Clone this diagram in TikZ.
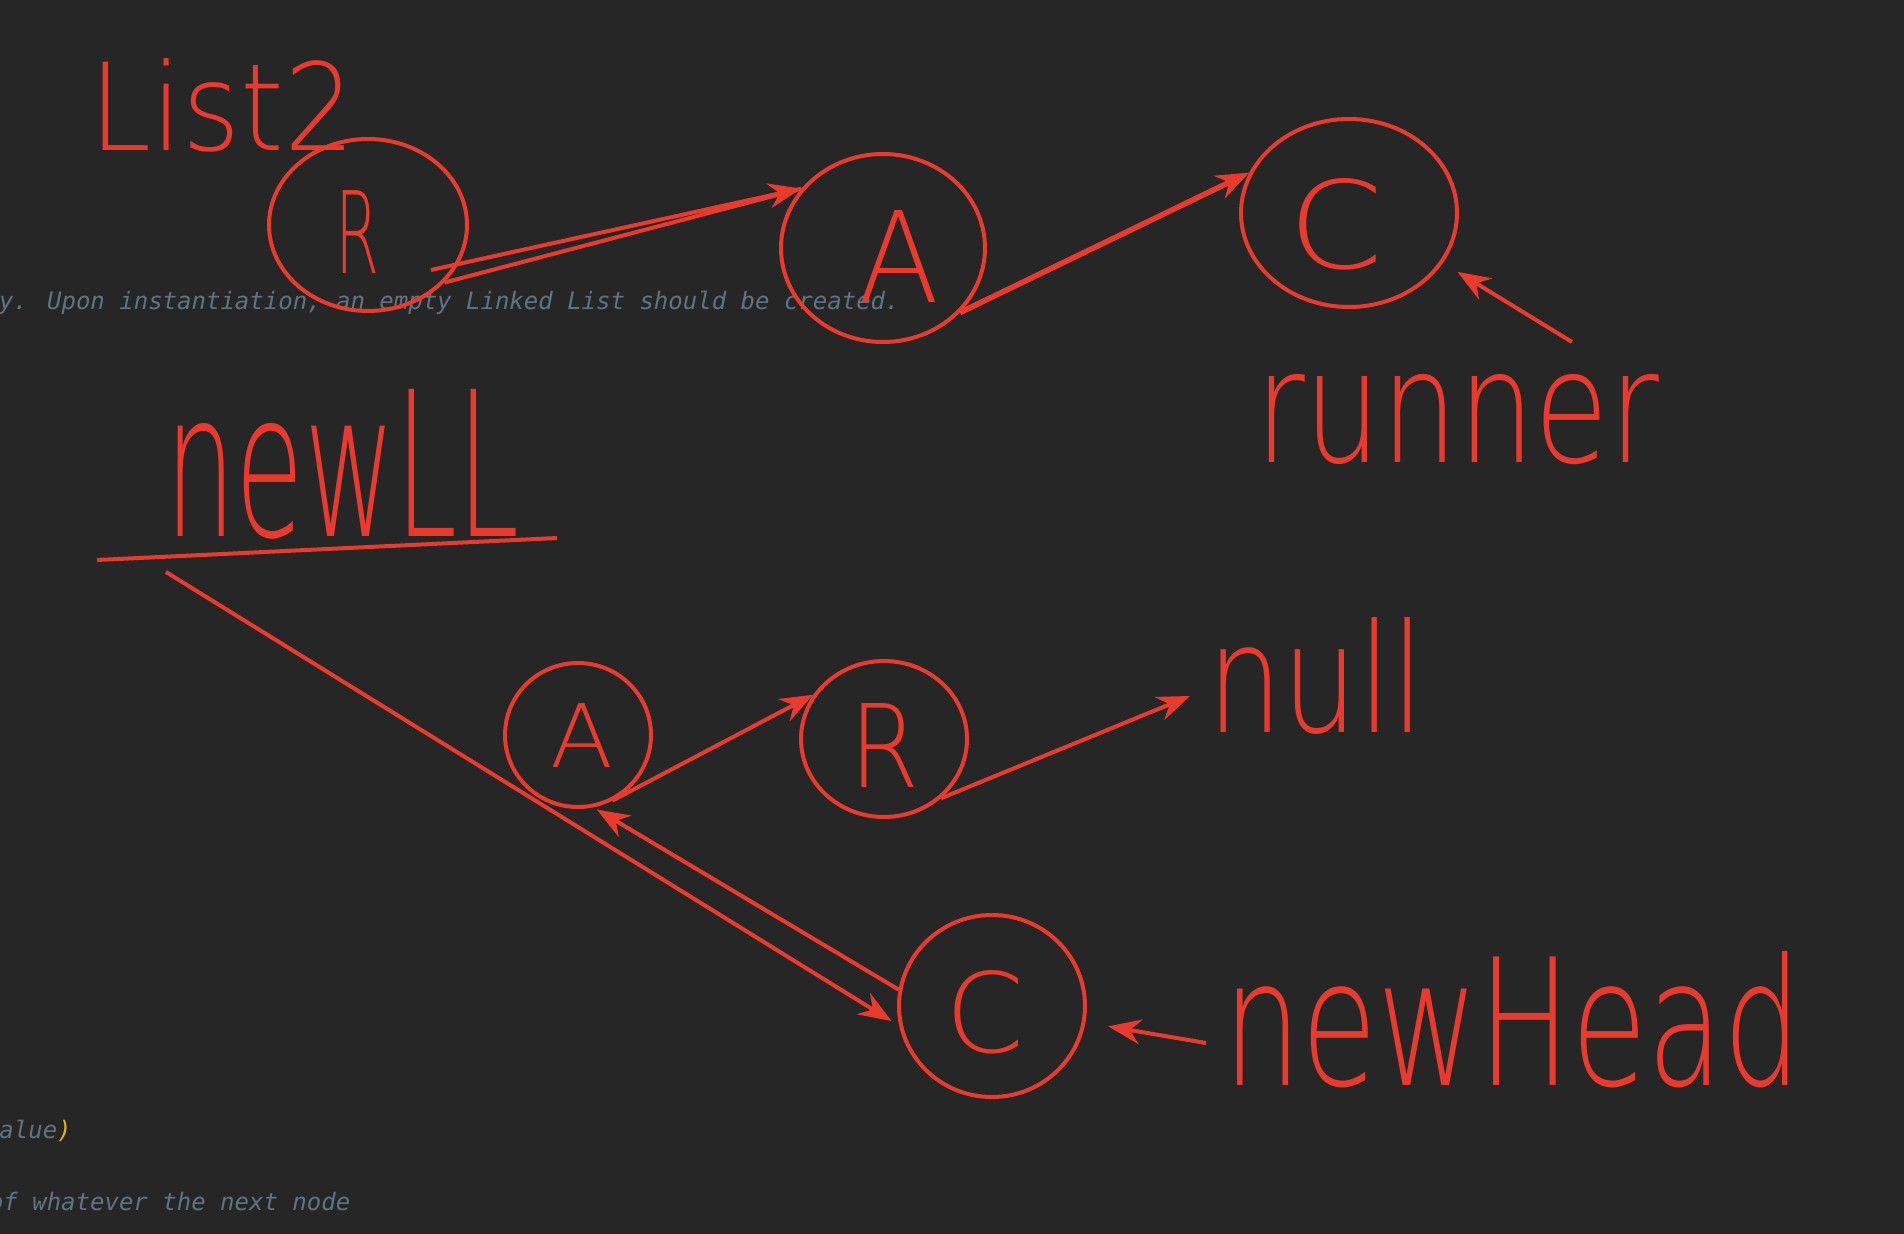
\documentclass[tikz,border=0pt]{standalone}
\usepackage{fontspec}
\usepackage{graphicx}
\usepackage{xcolor}
\usetikzlibrary{arrows.meta,shapes.geometric}

\newfontfamily\handfont{DejaVuSans-ExtraLight.ttf}
\newfontfamily\codefont{DejaVu Sans Mono}
\definecolor{pen}{RGB}{234,58,46}
\definecolor{board}{RGB}{38,38,38}
\definecolor{comment}{RGB}{96,116,128}
\definecolor{paren}{RGB}{229,180,34}
\newcommand{\handword}[3]{\resizebox{#1pt}{#2pt}{#3}}

\tikzset{
  cell/.style={ellipse, draw=pen, inner sep=0pt},
  hand/.style={text=pen, inner sep=0pt, anchor=base west, font=\handfont},
  code/.style={text=comment, inner sep=0pt, anchor=base west,
    font=\codefont\itshape\fontsize{24}{28}\selectfont},
  ptr/.style={draw=pen, -{Stealth[length=33pt,width=25pt,inset=11pt]}},
}

\begin{document}
\begin{tikzpicture}[x=1pt, y=-1pt, line width=4pt]
    \fill[board] (0,0) rectangle (1904,1234);
    \useasboundingbox (0,0) rectangle (1904,1234);

    \node[code](doc1) at (-3, 309) {y. Upon instantiation, an empty Linked List should be created.};
    \node[code](doc2) at (-17, 1138) {value\textcolor{paren}{)}};
    \node[code](doc3) at (-13, 1210) {of whatever the next node};

    \node[cell, minimum width=198pt, minimum height=172pt](r1) at (368, 225) {};
    \node[cell, minimum width=204pt, minimum height=188pt](a1) at (883, 248) {};
    \node[cell, minimum width=216pt, minimum height=188pt](c1) at (1349, 213) {};
    \node[cell, minimum width=146pt, minimum height=144pt](a2) at (578, 735) {};
    \node[cell, minimum width=166pt, minimum height=156pt](r2) at (884, 739) {};
    \node[cell, minimum width=186pt, minimum height=182pt](c2) at (992, 1006) {};

    \node[hand](r1l) at (333, 273) {\handword{44}{83}{R}};
    \node[hand](a1l) at (856, 302) {\handword{81}{92}{A}};
    \node[hand](c1l) at (1286, 268) {\handword{95}{90}{C}};
    \node[hand](a2l) at (548, 767) {\handword{63}{64}{A}};
    \node[hand](r2l) at (847, 787) {\handword{70}{84}{R}};
    \node[hand](c2l) at (943, 1052) {\handword{79}{82}{C}};

    \node[hand](list2) at (87, 150) {\handword{266}{92}{List2}};
    \node[hand](runner) at (1253, 462) {\handword{404}{88}{runner}};
    \node[hand](newll) at (163, 536) {\handword{354}{147}{newLL}};
    \node[hand](null) at (1205, 732) {\handword{217}{115}{null}};
    \node[hand](newhead) at (1221, 1085) {\handword{579}{134}{newHead}};

    \coordinate(r1tail) at (431, 270);
    \coordinate(runtail) at (1572, 342);
    \coordinate(lltail) at (166, 572);

    \draw[pen] (97, 560) -- (557, 538);

    \draw[ptr] (r1tail) -- (a1.144);
    \draw[pen] (r1.-37) -- (a1.144);
    \draw[ptr, line width=5.5pt] (a1.-40) -- (c1.158);
    \draw[ptr, shorten >=17pt] (runtail) -- (c1.-28);
    \draw[ptr, shorten >=9pt] (lltail) -- (c2.-168);
    \draw[ptr, shorten >=4pt] (c2.170) -- (a2.-78);
    \draw[ptr, shorten <=-6pt] (a2.-58) -- (r2.148);
    \draw[ptr] (r2.-46) -- ([xshift=-15pt, yshift=36pt]null.base west);
    \draw[ptr, shorten >=23pt] ([xshift=-15pt, yshift=42pt]newhead.base west) -- (c2.-10);
\end{tikzpicture}
\end{document}
